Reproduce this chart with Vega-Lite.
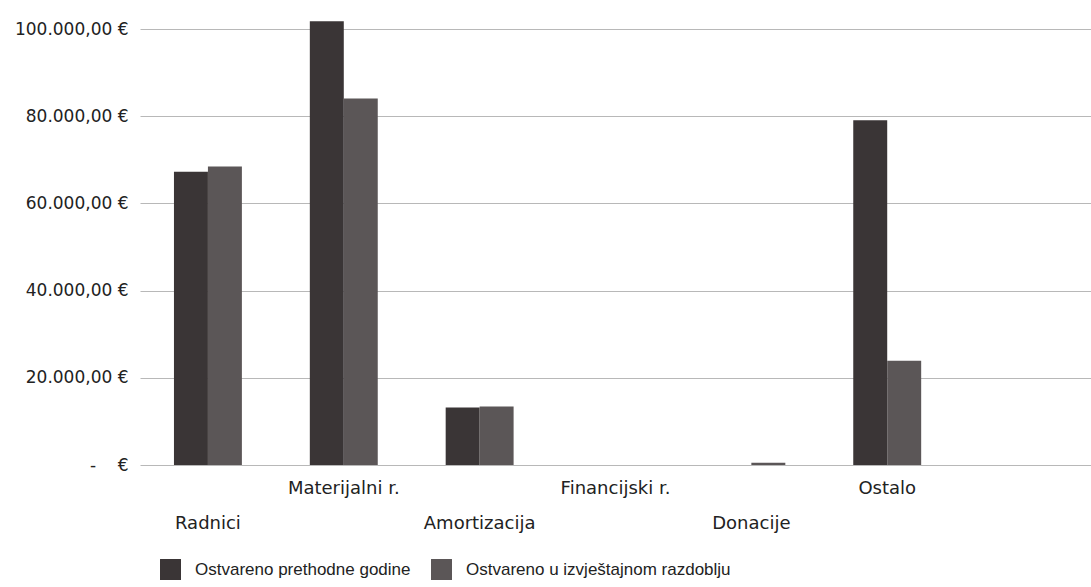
{
  "$schema": "https://vega.github.io/schema/vega-lite/v6.json",
  "autosize": "none",
  "width": 951,
  "height": 462,
  "padding": {"left": 140, "top": 3, "right": 0, "bottom": 122},
  "background": "white",
  "data": {
    "values": [
      {"kategorija": "Radnici", "serija": "Ostvareno prethodne godine", "iznos": 67300},
      {"kategorija": "Radnici", "serija": "Ostvareno u izvještajnom razdoblju", "iznos": 68500},
      {"kategorija": "Materijalni r.", "serija": "Ostvareno prethodne godine", "iznos": 101800},
      {"kategorija": "Materijalni r.", "serija": "Ostvareno u izvještajnom razdoblju", "iznos": 84100},
      {"kategorija": "Amortizacija", "serija": "Ostvareno prethodne godine", "iznos": 13200},
      {"kategorija": "Amortizacija", "serija": "Ostvareno u izvještajnom razdoblju", "iznos": 13400},
      {"kategorija": "Financijski r.", "serija": "Ostvareno prethodne godine", "iznos": 0},
      {"kategorija": "Financijski r.", "serija": "Ostvareno u izvještajnom razdoblju", "iznos": 0},
      {"kategorija": "Donacije", "serija": "Ostvareno prethodne godine", "iznos": 0},
      {"kategorija": "Donacije", "serija": "Ostvareno u izvještajnom razdoblju", "iznos": 500},
      {"kategorija": "Ostalo", "serija": "Ostvareno prethodne godine", "iznos": 79100},
      {"kategorija": "Ostalo", "serija": "Ostvareno u izvještajnom razdoblju", "iznos": 23900}
    ]
  },
  "mark": {"type": "bar", "stroke": null},
  "encoding": {
    "x": {
      "field": "kategorija",
      "type": "nominal",
      "sort": null,
      "scale": {
        "domain": ["Radnici", "Materijalni r.", "Amortizacija", "Financijski r.", "Donacije", "Ostalo", " "],
        "paddingInner": 0.5,
        "paddingOuter": 0.25
      },
      "axis": {
        "title": null,
        "labelAngle": 0,
        "domain": false,
        "ticks": false,
        "grid": false,
        "labelFont": "DejaVu Sans",
        "labelFontSize": 18,
        "labelColor": "#222222",
        "labelBaseline": "top",
        "labelPadding": {
          "condition": {"test": "indexof(['Radnici','Amortizacija','Donacije'], datum.value) >= 0", "value": 49},
          "value": 14
        }
      }
    },
    "xOffset": {"field": "serija", "type": "nominal", "sort": null, "scale": {"paddingInner": 0, "paddingOuter": 0}},
    "y": {
      "field": "iznos",
      "type": "quantitative",
      "scale": {"domain": [0, 106000], "nice": false, "clamp": true},
      "axis": {
        "title": null,
        "values": [0, 20000, 40000, 60000, 80000, 100000],
        "domain": false,
        "ticks": false,
        "labelPadding": 12,
        "labelFont": "DejaVu Sans",
        "labelFontSize": 17,
        "labelColor": "#222222",
        "gridColor": "#b8b8b8",
        "gridWidth": 1,
        "labelExpr": "datum.value == 0 ? '-\u00a0\u00a0\u00a0\u00a0€\u00a0' : replace(replace(replace(format(datum.value, ',.2f'), ',', '#'), '.', ','), '#', '.') + ' €'"
      }
    },
    "color": {
      "field": "serija",
      "type": "nominal",
      "sort": null,
      "scale": {"range": ["#3a3536", "#5b5657"]},
      "legend": {
        "title": null,
        "orient": "none",
        "direction": "horizontal",
        "legendX": 20,
        "legendY": 556,
        "symbolType": "square",
        "symbolSize": 440,
        "symbolStrokeWidth": 0,
        "labelFont": "Liberation Sans",
        "labelFontSize": 17,
        "labelColor": "#222222",
        "labelLimit": 400,
        "columnPadding": 20,
        "labelOffset": 14
      }
    }
  },
  "config": {"view": {"stroke": null}}
}
